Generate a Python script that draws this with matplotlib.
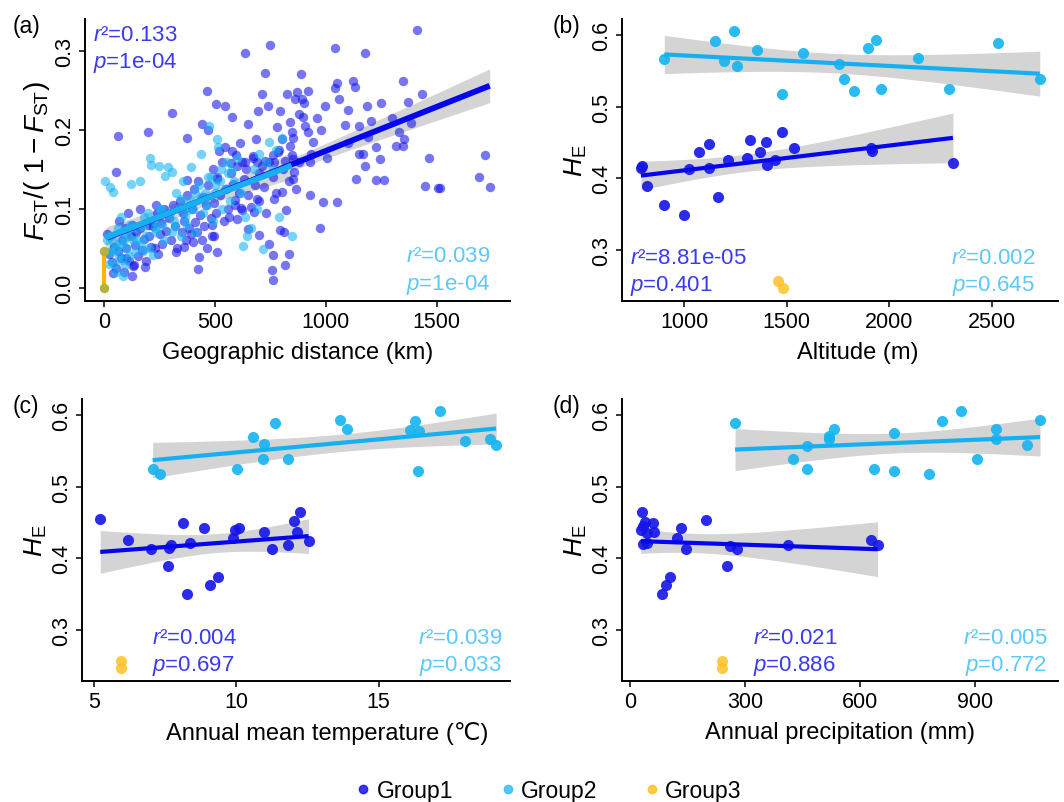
import matplotlib
matplotlib.use("Agg")
import matplotlib.pyplot as plt
from matplotlib.lines import Line2D
import numpy as np

plt.rcParams['font.family'] = ['Liberation Sans', 'DejaVu Sans']
plt.rcParams['mathtext.fontset'] = 'custom'
plt.rcParams['mathtext.rm'] = 'Liberation Sans'
plt.rcParams['mathtext.it'] = 'Liberation Sans:italic'

# ---- panel (a): pairwise isolation by distance ----
dist_g1 = [1412, 749, 1041, 633, 1178, 726, 886, 1049, 1039, 1349, 1120, 1131, 463, 711, 826, 871,
           1435, 1372, 1185, 997, 503, 545, 861, 893, 693, 740, 794, 306, 574, 647, 895, 838, 780,
           847, 1086, 1205, 1386, 1332, 920, 372, 62, 199, 441, 466, 685, 804, 1352, 1191, 1098, 837,
           611, 1315, 1349, 1228, 932, 1148, 1167, 1720, 1464, 1004, 1242, 1178, 930, 847, 571, 519,
           545, 595, 633, 723, 760, 767, 1263, 1228, 1138, 850, 856, 1691, 1445, 1507, 1515, 1739,
           927, 987, 1049, 766, 804, 972, 794, 810, 834, 815, 761, 757, 761, 743, 697, 648, 700, 675,
           619, 592, 601, 562, 485, 496, 509, 426, 421, 325, 359, 243, 184, 126, 136, 40, 99, 13, 52,
           374, 507, 577, 671, 621, 689, 783, 815, 851,
           20, 35, 45, 55, 60, 75, 80, 90, 100, 110, 120, 130, 140, 150, 160, 170, 180, 190, 200, 210,
           220, 230, 240, 250, 255, 260, 270, 280, 290, 300, 310, 320, 330, 340, 350, 355, 360, 370,
           375, 380, 390, 395, 400, 405, 410, 420, 425, 430, 440, 445, 450, 460, 465, 470, 480, 485,
           490, 495, 505, 510, 520, 530, 540, 550, 560, 570, 580, 590, 600, 610, 620, 630, 640, 650,
           660, 670, 680, 690, 700, 710, 720, 730, 745, 760, 775, 790, 805, 820, 835, 850, 865, 880,
           65, 95, 105, 125, 145, 160, 200, 235,
           880, 900, 905, 920, 940, 960, 980, 1060, 1100, 1150, 1250, 1300]
fst_g1 = [.327, .308, .304, .298, .298, .272, .271, .260, .253, .262, .262, .255, .250, .246, .246, .248,
          .246, .236, .230, .231, .233, .230, .240, .240, .224, .230, .224, .222, .216, .208, .216, .210, .204,
          .198, .206, .211, .209, .198, .197, .190, .192, .197, .208, .200, .189, .189, .189, .191, .184, .180,
          .184, .180, .180, .178, .169, .170, .169, .168, .165, .164, .163, .154, .159, .168, .158, .174,
          .178, .168, .159, .161, .168, .159, .137, .136, .138, .138, .147, .140, .129, .126, .126, .128,
          .118, .109, .109, .113, .121, .075, .073, .071, .042, .029, .041, .022, .010, .055, .067, .074, .110, .096,
          .101, .111, .087, .089, .079, .065, .045, .039, .024, .045, .051, .043, .026, .015, .028, .018, .037, .068, .147,
          .136, .138, .174, .167, .159, .159, .172, .161, .163,
          .042, .032, .052, .025, .047, .038, .060, .020, .050, .034, .066, .027, .054, .040, .076, .048, .062, .034, .080, .052,
          .078, .050, .095, .068, .082, .055, .100, .072, .088, .060, .105, .078, .050, .110, .070, .095, .085, .060,
          .118, .075, .068, .100, .058, .125, .083, .070, .135, .092, .060, .115, .078, .105, .050, .130, .088, .065,
          .150, .108, .095, .140, .118, .160, .085, .125, .100, .145, .132, .105, .155, .120, .098, .138, .150, .118,
          .102, .165, .130, .112, .145, .155, .128, .095, .160, .140, .120, .175, .150, .098, .135, .190, .125, .160,
          .085, .075, .095, .080, .070, .100, .065, .105,
          .220, .235, .205, .250, .185, .215, .200, .240, .225, .205, .235, .215]

dist_g2 = [5, 10, 15, 20, 25, 30, 35, 40, 45, 50, 55, 60, 65, 70, 75, 80, 85, 90, 92, 100, 105, 110, 115,
           122, 130, 140, 150, 159, 165, 174, 180, 190, 200, 208, 211, 218, 225, 235, 245, 250, 260, 270,
           276, 289, 295, 306, 307, 315, 325, 335, 345, 355, 365, 375, 386, 392, 400, 410, 426, 438, 445,
           455, 465, 473, 480, 490, 500, 507, 514, 520, 530, 545, 555, 565, 575, 585, 600, 615, 626, 633,
           645, 663, 675, 690, 700, 718, 730, 745, 760, 775, 789, 800, 845,
           28, 58, 88, 118, 148, 178, 198, 228, 258, 288, 318, 348, 378, 408, 438, 468, 498, 528, 558]
fst_g2 = [.135, .060, .045, .030, .128, .045, .060, .121, .030, .050, .020, .075, .040, .058, .090, .035, .015,
          .070, .028, .050, .065, .040, .080, .132, .060, .045, .075, .135, .055, .047, .090, .065, .050, .164,
          .156, .041, .085, .070, .155, .100, .080, .060, .142, .153, .095, .147, .070, .085, .120, .100, .065,
          .135, .090, .080, .111, .153, .100, .070, .130, .170, .095, .120, .105, .205, .140, .085, .120, .189,
          .178, .135, .100, .125, .160, .110, .150, .135, .165, .120, .053, .089, .065, .075, .150, .100, .170,
          .049, .160, .185, .150, .175, .089, .190, .066,
          .065, .050, .060, .075, .060, .080, .095, .075, .100, .092, .078, .112, .098, .120, .115, .140, .130, .150, .145]

dist_g3 = [0, 0]
fst_g3 = [0.0, 0.046]

# ---- panels (b)-(d): population level ----
alt_g1 = [794, 790, 818, 904, 1000, 1024, 1073, 1120, 1122, 1164, 1213, 1309, 1322, 1371, 1398, 1405,
          1444, 1478, 1538, 1913, 1915, 2310]
he_b_g1 = [.417, .414, .389, .363, .349, .413, .437, .448, .414, .374, .425, .428, .454, .437, .451, .418,
           .426, .465, .442, .442, .438, .421]
alt_g2 = [904, 1153, 1245, 1197, 1260, 1356, 1579, 1478, 1757, 1777, 1830, 1896, 1936, 1959, 2139, 2292,
          2528, 2733]
he_b_g2 = [.566, .591, .606, .563, .557, .579, .575, .518, .559, .538, .522, .581, .593, .524, .568, .525,
           .589, .538]
alt_g3 = [1460, 1484]
he_g3 = [.257, .247]

temp_g1 = [5.22, 6.18, 6.99, 7.61, 7.70, 7.65, 8.12, 8.28, 8.38, 8.86, 9.08, 9.37, 9.87, 9.96, 10.10,
           10.96, 11.27, 11.80, 12.03, 12.15, 12.25, 12.54]
he_c_g1 = [.455, .426, .413, .390, .418, .414, .449, .350, .421, .443, .363, .374, .429, .439, .443,
           .437, .413, .418, .452, .437, .465, .424]
temp_g2 = [7.06, 7.32, 10.04, 10.58, 10.96, 10.93, 11.37, 11.80, 13.65, 13.89, 16.09, 16.29, 16.41, 16.37,
           17.17, 18.02, 18.93, 19.13]
he_c_g2 = [.525, .518, .525, .569, .559, .539, .589, .539, .593, .581, .579, .591, .577, .522, .606, .563,
           .566, .558]
temp_g3 = [5.94, 5.94]

prec_g1 = [31, 28, 33, 38, 34, 45, 43, 61, 63, 83, 93, 103, 123, 132, 146, 197, 254, 261, 278, 411, 630, 646]
he_d_g1 = [.465, .440, .445, .451, .420, .422, .436, .449, .437, .350, .363, .374, .428, .442, .413, .454,
           .390, .417, .413, .418, .426, .418]
prec_g2 = [274, 424, 461, 463, 520, 520, 533, 636, 689, 689, 780, 815, 863, 906, 955, 955, 1035, 1070]
he_d_g2 = [.589, .539, .557, .525, .566, .570, .580, .524, .575, .522, .518, .591, .606, .538, .581, .566,
           .558, .593]
prec_g3 = [239, 239]

stats = {
    'a': (('r²=0.133', 'p=1e-04'), ('r²=0.039', 'p=1e-04')),
    'b': (('r²=8.81e-05', 'p=0.401'), ('r²=0.002', 'p=0.645')),
    'c': (('r²=0.004', 'p=0.697'), ('r²=0.039', 'p=0.033')),
    'd': (('r²=0.021', 'p=0.886'), ('r²=0.005', 'p=0.772')),
}

c1, c2, c3 = '#1414EA', '#14B4F2', '#FFC125'
line1, line2 = '#0505EE', '#16B0F0'
txt1, txt2 = '#3A3AF0', '#5BC9FA'
band = '#D4D4D4'


def fit(ax, x, y, color, lw):
    x = np.asarray(x, float)
    y = np.asarray(y, float)
    b1, b0 = np.polyfit(x, y, 1)
    xs = np.linspace(x.min(), x.max(), 100)
    n = len(x)
    res = y - (b0 + b1 * x)
    s = np.sqrt(res @ res / (n - 2))
    sxx = ((x - x.mean()) ** 2).sum()
    t = 1.96 + 2.4 / (n - 2)
    se = s * np.sqrt(1 / n + (xs - x.mean()) ** 2 / sxx)
    ax.fill_between(xs, b0 + b1 * xs - t * se, b0 + b1 * xs + t * se, color=band, lw=0, zorder=1)
    ax.plot(xs, b0 + b1 * xs, color=color, lw=lw, zorder=4, solid_capstyle='butt')


def style(ax, xt, yt, ylab, xlab, xlim, ylim):
    for s in ['top', 'right']:
        ax.spines[s].set_visible(False)
    for s in ['left', 'bottom']:
        ax.spines[s].set_linewidth(1.4)
    ax.set_xlim(xlim)
    ax.set_ylim(ylim)
    ax.set_xticks(xt)
    ax.set_yticks(yt)
    ax.set_yticklabels(['%.1f' % v for v in yt], rotation=90, va='center')
    ax.tick_params(length=4, width=1.1, labelsize=15.5, pad=3)
    ax.set_xlabel(xlab, fontsize=17, labelpad=7)
    ax.set_ylabel(ylab, fontsize=19, labelpad=2)


def stat_text(ax, key, x1, x2):
    (r1, p1), (r2, p2) = stats[key]
    kw = dict(transform=ax.transAxes, fontsize=16, va='center')
    ax.text(x1, 0.155, '$r$' + r1[1:], color=txt1, ha='left', **kw)
    ax.text(x1, 0.058, '$p$' + p1[1:], color=txt1, ha='left', **kw)
    ax.text(x2, 0.155, '$r$' + r2[1:], color=txt2, ha='right', **kw)
    ax.text(x2, 0.058, '$p$' + p2[1:], color=txt2, ha='right', **kw)


fig = plt.figure(figsize=(10.64, 8.03), dpi=100)
axa = fig.add_axes([0.0799, 0.624, 0.3995, 0.351])
axb = fig.add_axes([0.5846, 0.624, 0.4098, 0.351])
axc = fig.add_axes([0.0771, 0.1507, 0.4023, 0.351])
axd = fig.add_axes([0.5846, 0.1507, 0.4098, 0.351])

# (a)
axa.scatter(dist_g1, fst_g1, s=46, color=c1, alpha=0.58, lw=0, zorder=2)
axa.scatter(dist_g2, fst_g2, s=46, color=c2, alpha=0.58, lw=0, zorder=2)
fit(axa, dist_g1, fst_g1, line1, 4.2)
fit(axa, dist_g2, fst_g2, line2, 4.2)
axa.plot(dist_g3, fst_g3, color='#FFB400', lw=3, zorder=5)
axa.scatter(dist_g3, fst_g3, s=46, color='#B2B23C', lw=0, zorder=6)
style(axa, [0, 500, 1000, 1500], [0.0, 0.1, 0.2, 0.3],
      r'$F_{\mathrm{ST}}/(\,\,1-F_{\mathrm{ST}})$', 'Geographic distance (km)', (-87, 1831), (-0.017, 0.341))
axa.yaxis.label.set_size(20)
(r1, p1), (r2, p2) = stats['a']
axa.text(0.019, 0.947, '$r$' + r1[1:], color=txt1, fontsize=16, va='center', transform=axa.transAxes)
axa.text(0.019, 0.848, '$p$' + p1[1:], color=txt1, fontsize=16, va='center', transform=axa.transAxes)
axa.text(0.953, 0.160, '$r$' + r2[1:], color=txt2, fontsize=16, va='center', ha='right', transform=axa.transAxes)
axa.text(0.953, 0.060, '$p$' + p2[1:], color=txt2, fontsize=16, va='center', ha='right', transform=axa.transAxes)

# (b)-(d)
panels = [
    (axb, 'b', alt_g1, he_b_g1, alt_g2, he_b_g2, alt_g3, [1000, 1500, 2000, 2500], 'Altitude (m)',
     (698, 2822), 0.018, 0.947),
    (axc, 'c', temp_g1, he_c_g1, temp_g2, he_c_g2, temp_g3, [5, 10, 15], 'Annual mean temperature (℃)',
     (4.58, 19.62), 0.164, 0.981),
    (axd, 'd', prec_g1, he_d_g1, prec_g2, he_d_g2, prec_g3, [0, 300, 600, 900], 'Annual precipitation (mm)',
     (-21, 1117), 0.30, 0.975),
]
for ax, key, x1, y1, x2, y2, x3, xt, xlab, xlim, tx1, tx2 in panels:
    ax.scatter(x1, y1, s=64, color=c1, alpha=0.9, lw=0, zorder=2)
    ax.scatter(x2, y2, s=64, color=c2, alpha=0.9, lw=0, zorder=2)
    ax.scatter(x3, he_g3, s=64, color=c3, alpha=0.85, lw=0, zorder=2)
    fit(ax, x1, y1, line1, 3)
    fit(ax, x2, y2, line2, 3)
    style(ax, xt, [0.3, 0.4, 0.5, 0.6], r'$H_{\mathrm{E}}$', xlab, xlim, (0.229, 0.622))
    stat_text(ax, key, tx1, tx2)

axb.xaxis.label.set_x(0.54)
axc.xaxis.label.set_x(0.572)

for lab, x, y in [('(a)', 26, 27), ('(b)', 566, 27), ('(c)', 26, 407), ('(d)', 566, 407)]:
    fig.text(x / 1064, 1 - y / 803, lab, fontsize=16.5, ha='center', va='center')

handles = [Line2D([], [], marker='o', ls='', color=c, alpha=0.85, markersize=6) for c in [c1, '#33BFF5', c3]]
fig.legend(handles, ['Group1', 'Group2', 'Group3'], loc='center', bbox_to_anchor=(0.514, 0.0137),
           ncol=3, frameon=False, fontsize=16.5, handletextpad=0.1, columnspacing=1.85, handlelength=1.0)

fig.savefig('out.png', dpi=100)
